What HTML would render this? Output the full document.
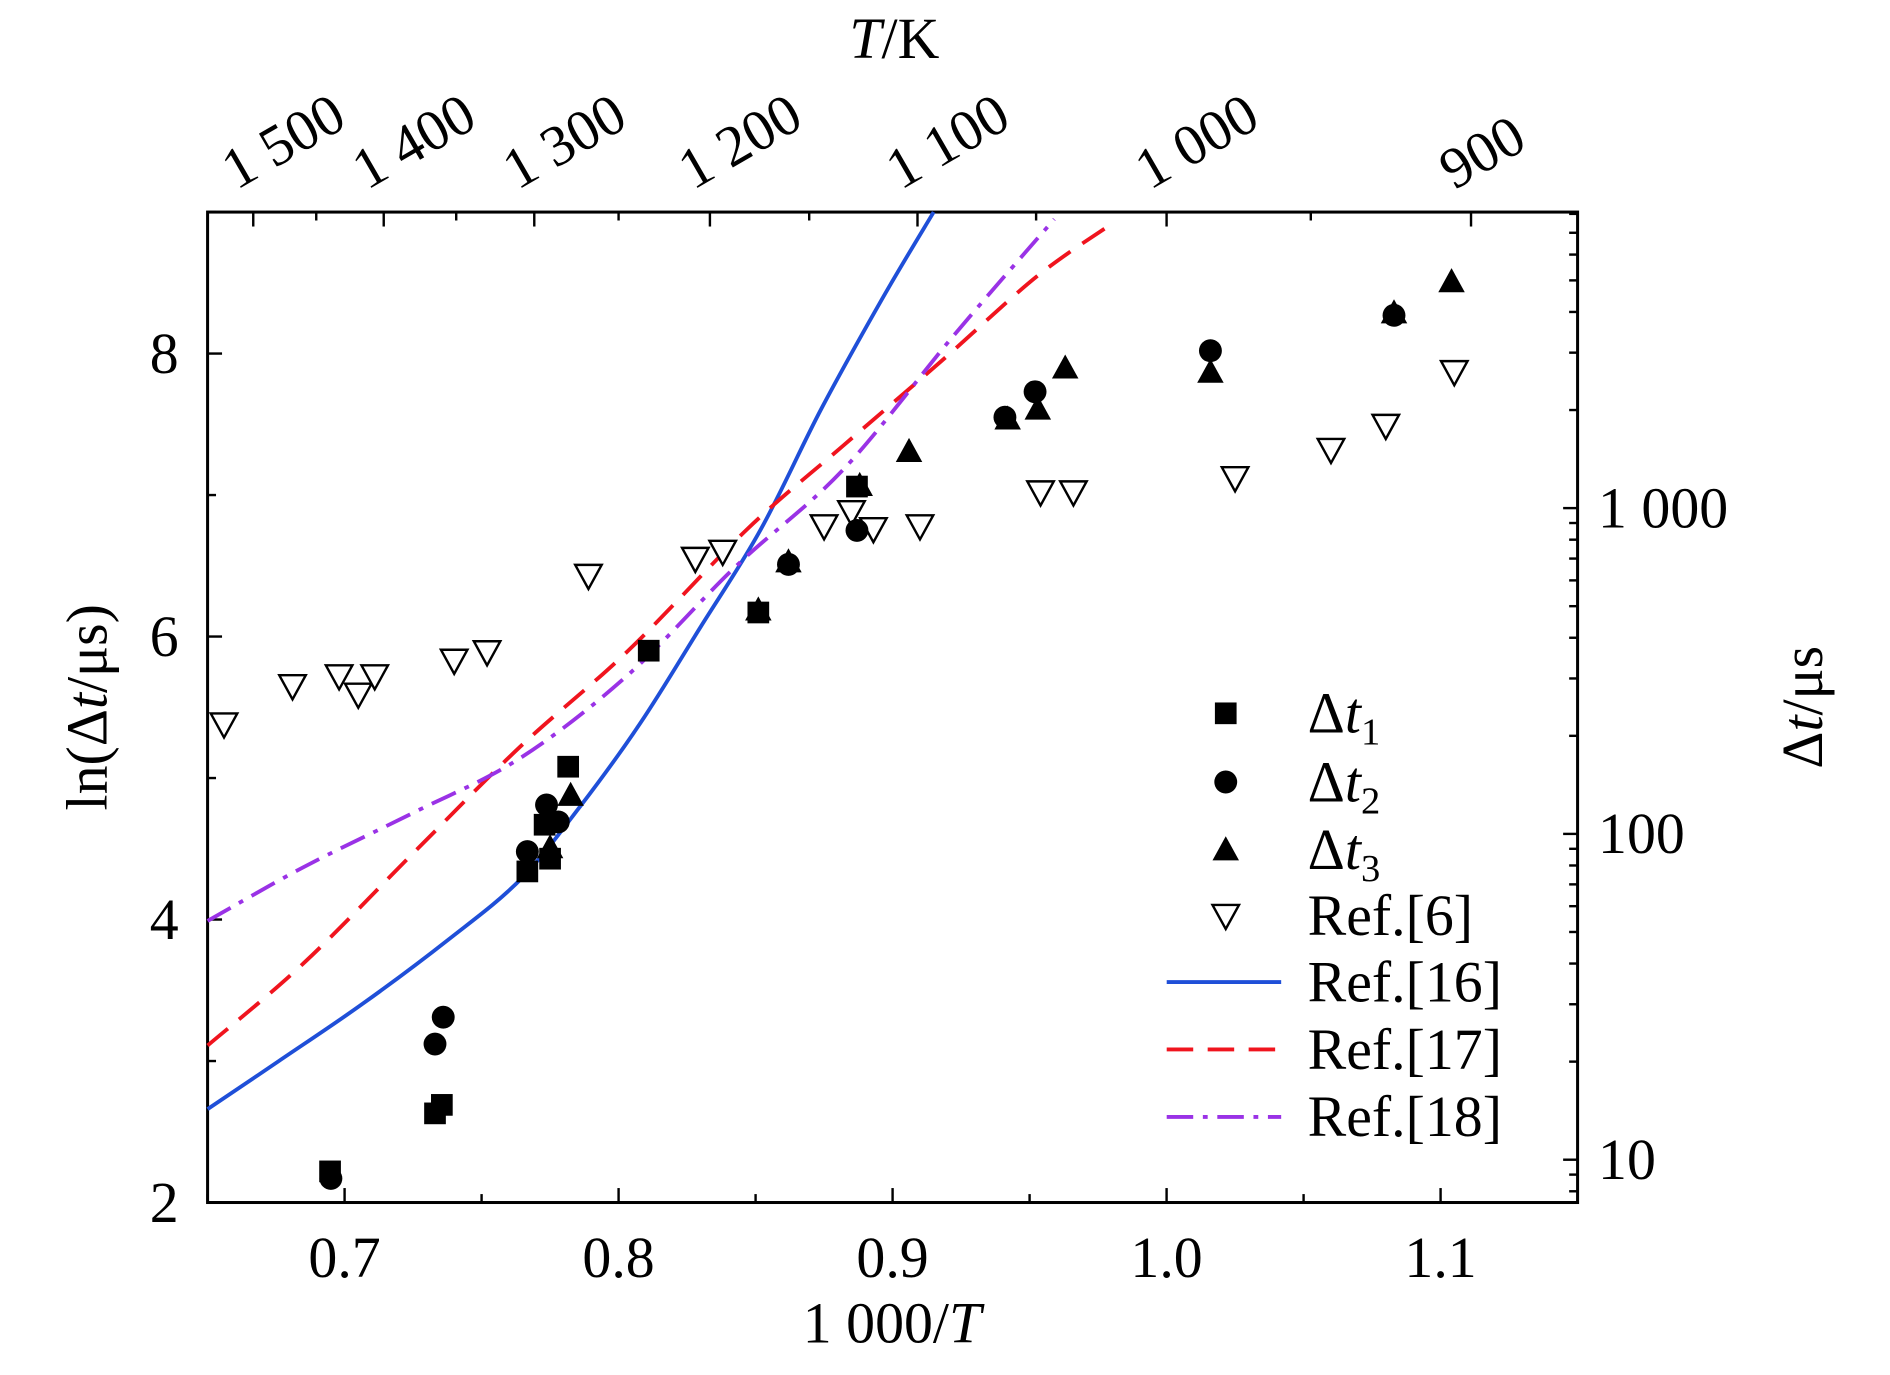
<!DOCTYPE html>
<html><head><meta charset="utf-8"><style>
html,body{margin:0;padding:0;background:#fff;}
svg text{font-family:"Liberation Serif",serif;fill:#000;}
</style></head><body>
<svg id="chart" width="1890" height="1370" viewBox="0 0 1568 1137" xmlns="http://www.w3.org/2000/svg">
<g id="axes"></g><g id="marks"></g><g id="legend"></g>
</svg>
<script>
const dt1X=[0.6947,0.733,0.7355,0.7667,0.773,0.775,0.7816,0.811,0.851,0.887];
const dt1Y=[2.22,2.63,2.69,4.34,4.67,4.43,5.08,5.90,6.17,7.06];
const dt2X=[0.695,0.733,0.736,0.7667,0.7737,0.778,0.862,0.887,0.941,0.952,1.016,1.083];
const dt2Y=[2.17,3.12,3.31,4.48,4.81,4.69,6.51,6.75,7.55,7.73,8.02,8.27];
const dt3X=[0.775,0.7825,0.851,0.862,0.888,0.906,0.942,0.953,0.963,1.016,1.083,1.104];
const dt3Y=[4.51,4.88,6.19,6.53,7.07,7.31,7.54,7.61,7.90,7.87,8.29,8.51];
const ref6X=[0.656,0.681,0.698,0.705,0.711,0.740,0.752,0.789,0.828,0.838,0.875,0.885,0.893,0.910,0.954,0.966,1.025,1.060,1.080,1.105];
const ref6Y=[5.38,5.65,5.72,5.59,5.72,5.83,5.89,6.43,6.55,6.60,6.78,6.88,6.76,6.78,7.02,7.02,7.12,7.32,7.49,7.87];
const ref16X=[0.65,0.676,0.707,0.738,0.764,0.786,0.808,0.830,0.852,0.874,0.896,0.915];
const ref16Y=[2.66,3.0,3.41,3.86,4.28,4.80,5.39,6.07,6.76,7.61,8.38,9.0];
const ref17X=[0.65,0.685,0.7246,0.764,0.8035,0.847,0.882,0.918,0.953,0.981];
const ref17Y=[3.11,3.69,4.46,5.22,5.90,6.76,7.35,7.95,8.55,8.93];
const ref18X=[0.65,0.685,0.7246,0.764,0.8035,0.843,0.882,0.922,0.959];
const ref18Y=[3.99,4.37,4.75,5.14,5.73,6.50,7.18,8.12,8.95];
const xTicks=[0.7,0.8,0.9,1.0,1.1];
const xTickLabels=["0.7","0.8","0.9","1.0","1.1"];
const yTicks=[2,4,6,8];
const topT=[1500,1400,1300,1200,1100,1000,900];
const topLabels=["1 500","1 400","1 300","1 200","1 100","1 000","900"];
const rightTicks=[10,100,1000];
const rightLabels=["10","100","1 000"];

const L=172,R=1309,T=176,B=998,FS=48;
const sx=v=>L+(v-0.65)/0.5*(R-L);
const sy=v=>B-(v-2)/7*(B-T);
const NS="http://www.w3.org/2000/svg";
function mk(tag,attrs,parent,txt){const e=document.createElementNS(NS,tag);for(const k in attrs)e.setAttribute(k,attrs[k]);if(txt!==undefined)e.textContent=txt;parent.appendChild(e);return e;}
const axes=document.getElementById('axes'),marks=document.getElementById('marks'),leg=document.getElementById('legend');

let fr=mk('rect',{x:L,y:T,width:R-L,height:B-T,fill:'none',stroke:'#000','stroke-width':2.5},axes);


for(let v=0.65;v<=1.1501;v+=0.05){const x=sx(v);const major=xTicks.some(t=>Math.abs(t-v)<1e-6);
 mk('line',{x1:x,x2:x,y1:B,y2:B-(major?12:7),stroke:'#000','stroke-width':2},axes);}
xTicks.forEach((v,i)=>{const t=mk('text',{x:sx(v),y:1060,'font-size':FS,'text-anchor':'middle'},axes,xTickLabels[i]);
 
 });
for(let v=2;v<=9;v++){const y=sy(v);const major=yTicks.includes(v);
 mk('line',{x1:L,x2:L+(major?12:7),y1:y,y2:y,stroke:'#000','stroke-width':2},axes);}
yTicks.forEach(v=>{const t=mk('text',{x:148,y:sy(v)+16,'font-size':FS,'text-anchor':'end'},axes,String(v));
 
 });
topT.forEach((Tk,i)=>{const x=sx(1000/Tk);mk('line',{x1:x,x2:x,y1:T,y2:T+12,stroke:'#000','stroke-width':2},axes);
 const t=mk('text',{x:x-14,y:158,'font-size':FS,transform:`rotate(-30 ${x-14} 158)`},axes,topLabels[i]);
 
 });
for(let Tk=1550;Tk>=880;Tk-=50){if(Tk%100===0)continue;const v=1000/Tk;if(v<0.65||v>1.15)continue;const x=sx(v);mk('line',{x1:x,x2:x,y1:T,y2:T+7,stroke:'#000','stroke-width':2},axes);}
for(let d=1;d<=1000;d*=10){for(let m=1;m<10;m++){const val=d*m;const lv=Math.log(val);if(lv<2||lv>9)continue;const y=sy(lv);
 mk('line',{x1:R,x2:R-(m===1?12:7),y1:y,y2:y,stroke:'#000','stroke-width':2},axes);}}
rightTicks.forEach((v,i)=>{const t=mk('text',{x:1326,y:sy(Math.log(v))+16,'font-size':FS},axes,rightLabels[i]);
 
 });
let tt=mk('text',{x:740,y:1114,'font-size':FS,'text-anchor':'middle'},axes);tt.innerHTML='1 000/<tspan font-style="italic">T</tspan>';


tt=mk('text',{x:742,y:48,'font-size':FS,'text-anchor':'middle'},axes);tt.innerHTML='<tspan font-style="italic">T</tspan>/K';


tt=mk('text',{x:88,y:587,'font-size':FS,'text-anchor':'middle',transform:'rotate(-90 88 587)'},axes);tt.innerHTML='ln(Δ<tspan font-style="italic">t</tspan>/μs)';


tt=mk('text',{x:1512,y:587,'font-size':FS,'text-anchor':'middle',transform:'rotate(-90 1512 587)'},axes);tt.innerHTML='Δ<tspan font-style="italic">t</tspan>/μs';



function line(xs,ys,color,dash,name){const P=xs.map((x,i)=>[sx(x),sy(ys[i])]);
 let d='M'+P[0][0].toFixed(1)+','+P[0][1].toFixed(1);
 for(let i=0;i<P.length-1;i++){const p0=P[Math.max(0,i-1)],p1=P[i],p2=P[i+1],p3=P[Math.min(P.length-1,i+2)];
  const c1=[p1[0]+(p2[0]-p0[0])/6,p1[1]+(p2[1]-p0[1])/6],c2=[p2[0]-(p3[0]-p1[0])/6,p2[1]-(p3[1]-p1[1])/6];
  d+=` C${c1[0].toFixed(1)},${c1[1].toFixed(1)} ${c2[0].toFixed(1)},${c2[1].toFixed(1)} ${p2[0].toFixed(1)},${p2[1].toFixed(1)}`;}
 const p=mk('path',{d:d,fill:'none',stroke:color,'stroke-width':3.2,'stroke-dasharray':dash},marks);
 
 }
line(ref16X,ref16Y,'#1f4fd8','none','ref16-line');
line(ref17X,ref17Y,'#f0141e','22 12','ref17-line');
line(ref18X,ref18Y,'#9a32e6','22 8 4 8','ref18-line');

function marker(kind,x,y,parent){let e;
 if(kind==='sq')e=mk('rect',{x:x-9,y:y-9,width:18,height:18,fill:'#000'},parent);
 else if(kind==='ci')e=mk('circle',{cx:x,cy:y,r:9.5,fill:'#000'},parent);
 else if(kind==='tr')e=mk('polygon',{points:`${x},${y-11} ${x-11},${y+9} ${x+11},${y+9}`,fill:'#000'},parent);
 else e=mk('polygon',{points:`${x-11},${y-9} ${x+11},${y-9} ${x},${y+11}`,fill:'#fff',stroke:'#000','stroke-width':2},parent);
 return e;}
function pts(xs,ys,kind,name){xs.forEach((x,i)=>{const e=marker(kind,sx(x),sy(ys[i]),marks);
 
 });}
pts(ref6X,ref6Y,'ot','ref6-point');
pts(dt3X,dt3Y,'tr','dt3-point');
pts(dt2X,dt2Y,'ci','dt2-point');
pts(dt1X,dt1Y,'sq','dt1-point');

const rows=[['sq','Δ<tspan font-style="italic">t</tspan><tspan font-size="32" dy="10">1</tspan>'],['ci','Δ<tspan font-style="italic">t</tspan><tspan font-size="32" dy="10">2</tspan>'],['tr','Δ<tspan font-style="italic">t</tspan><tspan font-size="32" dy="10">3</tspan>'],['ot','Ref.[6]'],['l1','Ref.[16]'],['l2','Ref.[17]'],['l3','Ref.[18]']];
const ly=[592,649,705,760,815,871,927];
rows.forEach((r,i)=>{const y=ly[i];
 if(r[0]==='l1')mk('line',{x1:968,x2:1063,y1:y,y2:y,stroke:'#1f4fd8','stroke-width':3.2},leg);
 else if(r[0]==='l2')mk('line',{x1:968,x2:1063,y1:y,y2:y,stroke:'#f0141e','stroke-width':3.2,'stroke-dasharray':'22 12'},leg);
 else if(r[0]==='l3')mk('line',{x1:968,x2:1063,y1:y,y2:y,stroke:'#9a32e6','stroke-width':3.2,'stroke-dasharray':'22 8 4 8'},leg);
 else marker(r[0],1017,y,leg);
 const t=mk('text',{x:1085,y:y+16,'font-size':FS},leg);t.innerHTML=r[1];
 
 });
</script>
</body></html>
